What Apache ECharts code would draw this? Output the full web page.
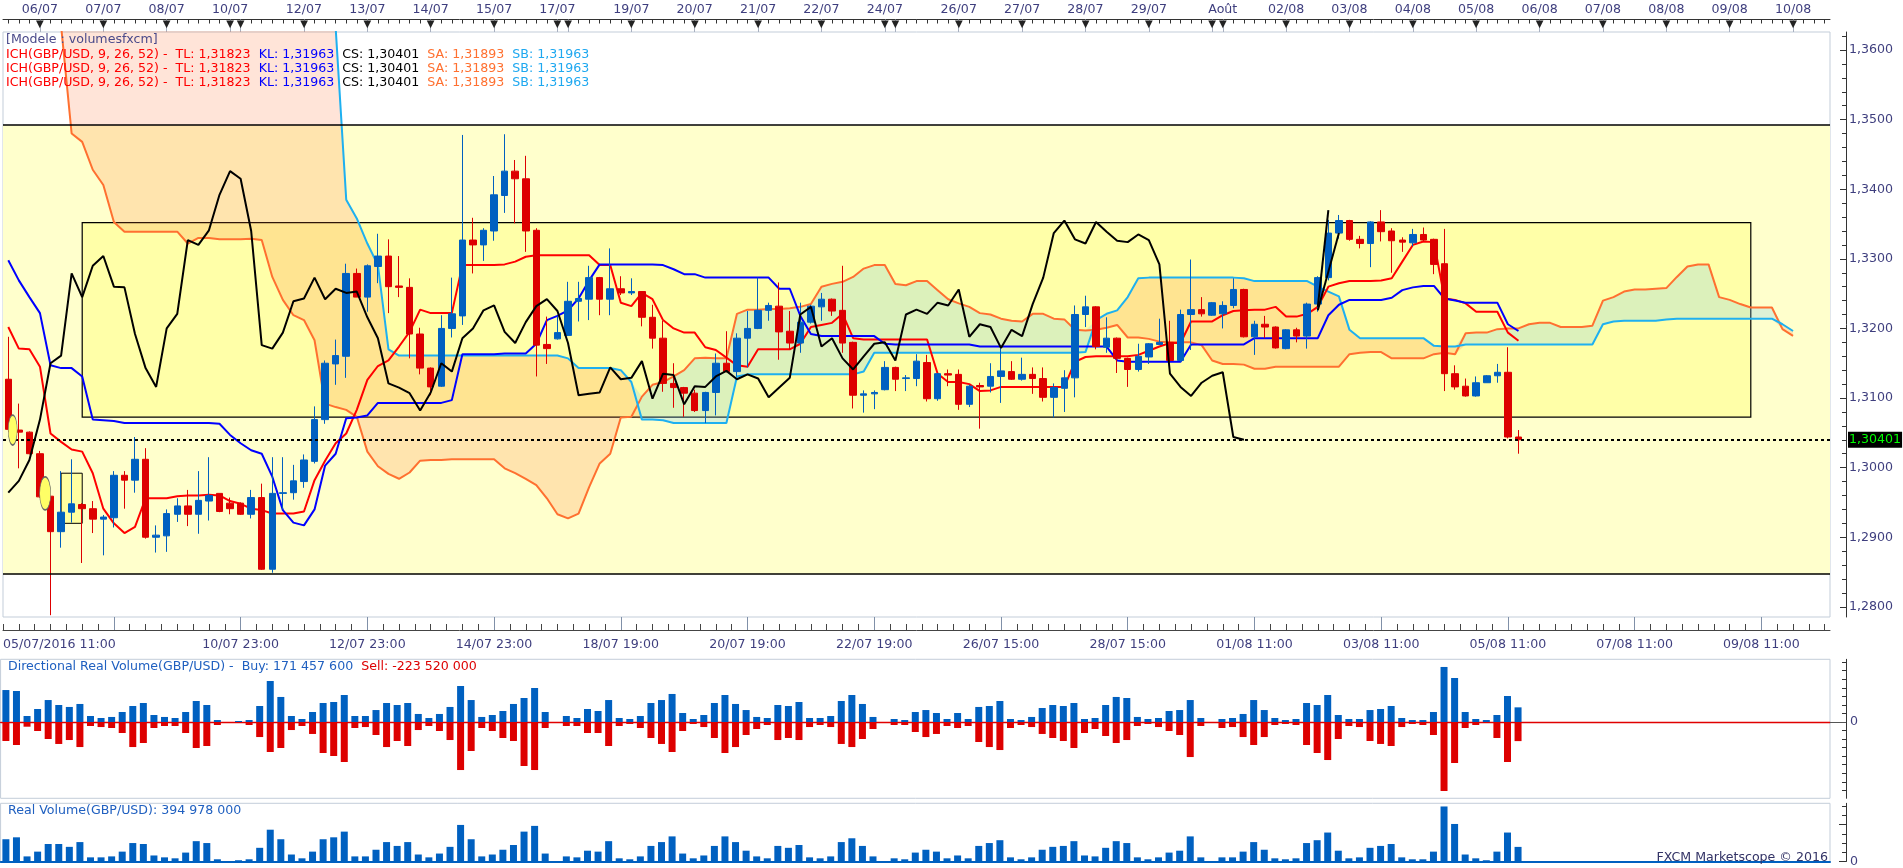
<!DOCTYPE html>
<html><head><meta charset="utf-8">
<script src="https://cdn.jsdelivr.net/npm/echarts@6/dist/echarts.min.js"></script>
<style>html,body{margin:0;padding:0;background:#fff;}#c{width:1903px;height:868px;}</style>
</head><body><div id="c"></div>
<script>
// ---------- DATA ----------
const NBARS = 173;
// [open, high, low, close] per 4h bar (GBP/USD)
const candleOHLC = [
[1.3127,1.3188,1.3051,1.3055],[1.3054,1.3092,1.2999,1.3051],[1.3051,1.3052,1.3019,1.3020],[1.3020,1.3024,1.2957,1.2958],[1.2959,1.2959,1.2788,1.2908],
[1.2908,1.2995,1.2885,1.2936],[1.2936,1.3012,1.2921,1.2948],[1.2947,1.2949,1.2863,1.2941],[1.2941,1.2952,1.2906,1.2926],[1.2926,1.2932,1.2874,1.2929],
[1.2928,1.2995,1.2914,1.2989],[1.2989,1.2995,1.2941,1.2982],[1.2982,1.3044,1.2964,1.3012],[1.3012,1.3028,1.2898,1.2900],[1.2900,1.2917,1.2878,1.2903],
[1.2902,1.2940,1.2879,1.2934],[1.2933,1.2956,1.2922,1.2945],[1.2945,1.2968,1.2916,1.2933],[1.2933,1.2995,1.2905,1.2953],[1.2952,1.3015,1.2924,1.2960],
[1.2963,1.2963,1.2936,1.2937],[1.2949,1.2957,1.2933,1.2941],[1.2949,1.2950,1.2932,1.2933],[1.2933,1.2968,1.2927,1.2957],[1.2957,1.2977,1.2853,1.2854],
[1.2854,1.3015,1.2849,1.2963],[1.2963,1.3015,1.2940,1.2964],[1.2964,1.3004,1.2954,1.2981],[1.2980,1.3019,1.2971,1.3011],[1.3009,1.3088,1.3006,1.3069],
[1.3069,1.3154,1.3063,1.3150],[1.3149,1.3184,1.3119,1.3161],[1.3160,1.3293,1.3129,1.3279],[1.3279,1.3286,1.3245,1.3245],[1.3245,1.3292,1.3224,1.3290],
[1.3289,1.3336,1.3265,1.3304],[1.3304,1.3328,1.3222,1.3260],[1.3261,1.3304,1.3245,1.3259],[1.3259,1.3272,1.3157,1.3192],[1.3192,1.3201,1.3134,1.3143],
[1.3143,1.3144,1.3104,1.3116],[1.3117,1.3219,1.3116,1.3200],[1.3200,1.3273,1.3187,1.3221],[1.3218,1.3478,1.3205,1.3327],[1.3327,1.3359,1.3279,1.3320],
[1.3320,1.3344,1.3297,1.3341],[1.3340,1.3419,1.3326,1.3392],[1.3391,1.3479,1.3366,1.3426],[1.3426,1.3442,1.3351,1.3415],[1.3415,1.3448,1.3310,1.3340],
[1.3341,1.3344,1.3131,1.3176],[1.3177,1.3217,1.3149,1.3171],[1.3185,1.3217,1.3184,1.3194],[1.3190,1.3267,1.3189,1.3239],[1.3239,1.3267,1.3210,1.3243],
[1.3242,1.3290,1.3212,1.3273],[1.3273,1.3274,1.3219,1.3242],[1.3242,1.3315,1.3219,1.3257],[1.3257,1.3275,1.3248,1.3251],[1.3251,1.3272,1.3248,1.3253],
[1.3253,1.3253,1.3203,1.3216],[1.3216,1.3234,1.3171,1.3186],[1.3186,1.3211,1.3109,1.3121],[1.3121,1.3150,1.3086,1.3115],[1.3115,1.3116,1.3073,1.3107],
[1.3107,1.3112,1.3080,1.3082],[1.3082,1.3109,1.3064,1.3108],[1.3108,1.3164,1.3075,1.3150],[1.3150,1.3196,1.3137,1.3138],[1.3138,1.3193,1.3131,1.3186],
[1.3186,1.3225,1.3144,1.3200],[1.3200,1.3273,1.3199,1.3226],[1.3226,1.3237,1.3211,1.3233],[1.3232,1.3266,1.3155,1.3195],[1.3196,1.3225,1.3170,1.3179],
[1.3179,1.3237,1.3165,1.3209],[1.3209,1.3234,1.3207,1.3232],[1.3231,1.3251,1.3211,1.3242],[1.3242,1.3243,1.3218,1.3225],[1.3226,1.3290,1.3165,1.3179],
[1.3180,1.3181,1.3085,1.3104],[1.3104,1.3111,1.3079,1.3106],[1.3106,1.3111,1.3084,1.3108],[1.3112,1.3153,1.3111,1.3144],[1.3144,1.3145,1.3110,1.3127],
[1.3128,1.3133,1.3110,1.3129],[1.3128,1.3163,1.3117,1.3153],[1.3151,1.3162,1.3095,1.3099],[1.3099,1.3136,1.3096,1.3135],[1.3135,1.3141,1.3117,1.3133],
[1.3134,1.3141,1.3083,1.3091],[1.3091,1.3119,1.3087,1.3117],[1.3118,1.3122,1.3056,1.3116],[1.3117,1.3150,1.3108,1.3131],[1.3131,1.3174,1.3093,1.3139],
[1.3138,1.3153,1.3126,1.3127],[1.3127,1.3158,1.3125,1.3134],[1.3134,1.3144,1.3106,1.3128],[1.3128,1.3144,1.3095,1.3101],[1.3101,1.3121,1.3072,1.3115],
[1.3114,1.3140,1.3080,1.3129],[1.3129,1.3233,1.3101,1.3220],[1.3220,1.3247,1.3202,1.3231],[1.3231,1.3232,1.3170,1.3174],[1.3173,1.3216,1.3165,1.3186],
[1.3186,1.3187,1.3136,1.3157],[1.3157,1.3158,1.3116,1.3141],[1.3141,1.3178,1.3138,1.3160],[1.3159,1.3179,1.3149,1.3178],[1.3177,1.3214,1.3176,1.3180],
[1.3180,1.3211,1.3152,1.3154],[1.3154,1.3227,1.3152,1.3220],[1.3220,1.3299,1.3169,1.3227],[1.3227,1.3245,1.3217,1.3221],[1.3219,1.3238,1.3218,1.3237],
[1.3221,1.3239,1.3200,1.3233],[1.3233,1.3272,1.3229,1.3256],[1.3256,1.3257,1.3187,1.3188],[1.3188,1.3211,1.3162,1.3206],[1.3206,1.3218,1.3186,1.3202],
[1.3202,1.3203,1.3171,1.3172],[1.3171,1.3199,1.3170,1.3198],[1.3198,1.3201,1.3180,1.3189],[1.3189,1.3237,1.3171,1.3235],[1.3235,1.3275,1.3224,1.3273],
[1.3273,1.3356,1.3269,1.3337],[1.3337,1.3363,1.3329,1.3355],[1.3355,1.3356,1.3326,1.3328],[1.3328,1.3333,1.3315,1.3322],[1.3322,1.3354,1.3288,1.3353],
[1.3353,1.3370,1.3325,1.3339],[1.3340,1.3344,1.3280,1.3326],[1.3327,1.3331,1.3310,1.3324],[1.3323,1.3343,1.3318,1.3335],[1.3335,1.3345,1.3325,1.3327],
[1.3328,1.3329,1.3278,1.3292],[1.3293,1.3343,1.3110,1.3135],[1.3135,1.3147,1.3112,1.3116],[1.3117,1.3128,1.3102,1.3103],[1.3103,1.3131,1.3102,1.3122],
[1.3122,1.3133,1.3122,1.3132],[1.3132,1.3149,1.3122,1.3137],[1.3137,1.3173,1.3042,1.3044],[1.3044,1.3054,1.3020,1.30401]
];
const tenkan = [
1.3202,1.3171,1.3170,1.3145,1.3049,1.3037,1.3026,1.3023,1.2992,1.2941,
1.2920,1.2906,1.2915,1.2956,1.2956,1.2956,1.2959,1.2960,1.2960,1.2961,
1.2960,1.2952,1.2948,1.2941,1.2939,1.2934,1.2934,1.2934,1.2937,1.2982,
1.3010,1.3035,1.3049,1.3083,1.3126,1.3146,1.3154,1.3174,1.3195,1.3227,
1.3222,1.3222,1.3222,1.3291,1.3291,1.3291,1.3291,1.3292,1.3296,1.3303,
1.3305,1.3305,1.3305,1.3305,1.3305,1.3305,1.3291,1.3291,1.3237,1.3232,
1.3251,1.3242,1.3212,1.3200,1.3194,1.3194,1.3173,1.3169,1.3158,1.3147,
1.3145,1.3170,1.3170,1.3170,1.3170,1.3178,1.3202,1.3205,1.3208,1.3221,
1.3186,1.3184,1.3184,1.3184,1.3184,1.3184,1.3184,1.3184,1.3135,1.3123,
1.3123,1.3120,1.3110,1.3111,1.3116,1.3116,1.3116,1.3116,1.3116,1.3116,
1.3116,1.3152,1.3159,1.3160,1.3160,1.3160,1.3160,1.3162,1.3168,1.3174,
1.3179,1.3179,1.3210,1.3210,1.3210,1.3219,1.3225,1.3226,1.3227,1.3227,
1.3231,1.3217,1.3217,1.3221,1.3231,1.3260,1.3265,1.3268,1.3268,1.3268,
1.3269,1.3272,1.3296,1.3320,1.3325,1.3324,1.3243,1.3241,1.3236,1.3224,
1.3224,1.3224,1.3194,1.31823
];
const kijun = [
1.3298,1.3269,1.3245,1.3222,1.3147,1.3143,1.3143,1.3131,1.3069,1.3068,
1.3067,1.3064,1.3064,1.3064,1.3064,1.3064,1.3064,1.3064,1.3064,1.3064,
1.3063,1.3047,1.3035,1.3025,1.3020,1.2987,1.2939,1.2921,1.2917,1.2940,
1.3003,1.3020,1.3071,1.3072,1.3075,1.3093,1.3093,1.3093,1.3093,1.3093,
1.3093,1.3093,1.3097,1.3163,1.3163,1.3163,1.3163,1.3164,1.3164,1.3164,
1.3178,1.3212,1.3218,1.3226,1.3243,1.3269,1.3292,1.3292,1.3292,1.3292,
1.3292,1.3292,1.3291,1.3285,1.3278,1.3278,1.3273,1.3273,1.3273,1.3273,
1.3273,1.3273,1.3273,1.3257,1.3257,1.3218,1.3192,1.3189,1.3189,1.3189,
1.3189,1.3189,1.3189,1.3178,1.3177,1.3177,1.3177,1.3177,1.3177,1.3177,
1.3177,1.3177,1.3174,1.3174,1.3174,1.3174,1.3174,1.3174,1.3174,1.3174,
1.3174,1.3174,1.3174,1.3174,1.3174,1.3154,1.3152,1.3152,1.3152,1.3152,
1.3152,1.3152,1.3177,1.3177,1.3177,1.3177,1.3177,1.3177,1.3186,1.3186,
1.3186,1.3186,1.3186,1.3186,1.3186,1.3219,1.3234,1.3241,1.3241,1.3241,
1.3241,1.3244,1.3255,1.3259,1.3261,1.3261,1.3243,1.3240,1.3237,1.3237,
1.3237,1.3237,1.3206,1.31963
];
const senkouA = [
1.3760,1.3740,1.3720,1.3700,1.3680,1.3635,1.3480,1.3468,1.3428,1.3406,
1.3353,1.3339,1.3339,1.3339,1.3339,1.3339,1.3339,1.3322,1.3330,1.3330,
1.3328,1.3328,1.3328,1.3329,1.3327,1.3274,1.3241,1.3219,1.3212,1.3183,
1.3092,1.3087,1.3083,1.3073,1.3023,1.3002,1.2991,1.2984,1.2993,1.3010,
1.3011,1.3011,1.3012,1.3012,1.3012,1.3012,1.3012,1.2999,1.2992,1.2984,
1.2975,1.2956,1.2933,1.2927,1.2934,1.2972,1.3006,1.3020,1.3072,1.3073,
1.3102,1.3119,1.3123,1.3131,1.3140,1.3157,1.3158,1.3157,1.3157,1.3221,
1.3227,1.3227,1.3228,1.3228,1.3229,1.3231,1.3235,1.3260,1.3264,1.3267,
1.3274,1.3286,1.3291,1.3291,1.3264,1.3262,1.3268,1.3268,1.3255,1.3242,
1.3236,1.3231,1.3222,1.3220,1.3214,1.3211,1.3210,1.3221,1.3221,1.3214,
1.3213,1.3198,1.3197,1.3198,1.3201,1.3205,1.3187,1.3187,1.3185,1.3181,
1.3180,1.3180,1.3180,1.3176,1.3154,1.3149,1.3149,1.3148,1.3142,1.3142,
1.3145,1.3145,1.3145,1.3145,1.3145,1.3145,1.3145,1.3163,1.3165,1.3166,
1.3166,1.3157,1.3157,1.3157,1.3157,1.3163,1.3165,1.3163,1.3193,1.3194,
1.3194,1.3199,1.3200,1.3200,1.3206,1.3208,1.3208,1.3202,1.3202,1.3202,
1.3204,1.3240,1.3245,1.3253,1.3256,1.3256,1.3257,1.3258,1.3274,1.3289,
1.3292,1.3292,1.3245,1.3241,1.3235,1.3230,1.3230,1.3230,1.3199,1.31893
];
const senkouB = [
1.3800,1.3800,1.3800,1.3800,1.3800,1.3800,1.3800,1.3800,1.3800,1.3800,
1.3800,1.3800,1.3800,1.3800,1.3800,1.3800,1.3800,1.3800,1.3800,1.3800,
1.3800,1.3800,1.3800,1.3800,1.3800,1.3800,1.3800,1.3800,1.3800,1.3800,
1.3800,1.3632,1.3385,1.3358,1.3322,1.3291,1.3170,1.3161,1.3161,1.3161,
1.3161,1.3161,1.3161,1.3161,1.3161,1.3161,1.3161,1.3161,1.3161,1.3161,
1.3161,1.3161,1.3161,1.3157,1.3143,1.3143,1.3143,1.3143,1.3140,1.3123,
1.3069,1.3069,1.3068,1.3064,1.3064,1.3064,1.3064,1.3064,1.3064,1.3131,
1.3134,1.3134,1.3134,1.3134,1.3134,1.3134,1.3134,1.3134,1.3134,1.3134,
1.3134,1.3138,1.3165,1.3165,1.3165,1.3165,1.3165,1.3165,1.3165,1.3165,
1.3165,1.3165,1.3165,1.3165,1.3165,1.3165,1.3165,1.3165,1.3165,1.3165,
1.3165,1.3165,1.3166,1.3212,1.3221,1.3226,1.3245,1.3272,1.3273,1.3273,
1.3273,1.3273,1.3273,1.3273,1.3273,1.3273,1.3273,1.3272,1.3268,1.3268,
1.3268,1.3268,1.3268,1.3268,1.3260,1.3253,1.3246,1.3198,1.3186,1.3186,
1.3186,1.3186,1.3186,1.3186,1.3186,1.3175,1.3174,1.3174,1.3177,1.3177,
1.3177,1.3177,1.3177,1.3177,1.3177,1.3177,1.3177,1.3177,1.3177,1.3177,
1.3177,1.3206,1.3210,1.3211,1.3211,1.3211,1.3211,1.3213,1.3214,1.3214,
1.3214,1.3214,1.3214,1.3214,1.3214,1.3214,1.3214,1.3214,1.3206,1.31963
];
// Directional real volume (millions): buy > 0, sell < 0
const buyVol = [
374,363,70,152,257,199,176,211,70,47,
59,117,187,222,82,59,47,117,246,199,
23,0,12,23,187,480,293,70,35,117,
222,234,316,70,70,140,222,199,222,94,
47,94,176,421,257,59,82,129,211,281,
398,117,0,70,47,152,129,257,47,35,
70,222,257,328,105,35,82,222,316,211,
140,59,47,199,187,234,47,47,70,246,
316,211,59,0,35,23,117,140,105,35,
105,35,176,187,246,35,23,59,164,199,
187,222,35,47,199,293,281,59,35,47,
129,140,257,47,0,35,47,94,257,140,
47,23,35,222,199,316,82,35,35,140,
152,187,47,23,23,117,644,515,117,35,
23,82,304,171.4576
];
const sellVol = [
-222,-269,-55,-105,-199,-257,-211,-293,-47,-59,
-70,-129,-293,-246,-70,-47,-47,-129,-304,-281,
-35,0,0,-35,-176,-351,-304,-94,-47,-140,
-363,-398,-468,-70,-59,-152,-293,-222,-281,-94,
-47,-105,-211,-562,-339,-70,-105,-187,-222,-515,
-562,-70,0,-47,-47,-129,-129,-281,-47,-23,
-70,-187,-257,-351,-105,-23,-59,-187,-363,-293,
-152,-82,-35,-211,-187,-211,-59,-35,-59,-257,
-293,-199,-82,0,-35,-35,-117,-176,-140,-47,
-70,-47,-234,-293,-328,-70,-35,-59,-140,-187,
-222,-304,-129,-82,-164,-246,-211,-47,-23,-59,
-105,-152,-410,-47,0,-70,-59,-176,-269,-176,
-35,-23,-35,-269,-363,-445,-199,-47,-59,-222,
-257,-281,-59,-23,-35,-152,-807,-480,-70,-35,
-8,-187,-468,-223.52
];
// Real volume (millions)
const realVol = [
602,654,138,267,473,473,396,525,112,112,
138,267,499,473,163,112,86,241,550,499,
60,0,34,60,370,860,602,189,86,267,
602,654,808,138,138,318,525,421,525,189,
112,215,396,989,602,138,189,318,447,808,
963,215,0,138,112,292,267,550,86,60,
138,421,525,679,215,86,163,421,679,525,
292,138,86,421,370,447,112,86,138,525,
628,421,138,0,86,60,241,318,267,86,
163,86,421,499,576,112,60,112,318,396,
421,550,163,138,370,550,499,112,60,112,
241,292,679,112,0,112,112,267,525,318,
86,60,86,499,576,783,292,86,112,370,
421,473,112,60,60,267,1488,1015,189,86,
34,267,783,394.978
];
// Top axis: day markers (bar index) and their labels ('' = unlabeled marker)
const dayMarkIdx = [3,9,15,21,22,28,34,40,46,52,53,59,65,71,77,83,84,90,96,102,108,114,115,121,127,133,139,145,151,157,163,169];
const dayMarkLabels = ['06/07','07/07','08/07','10/07','','12/07','13/07','14/07','15/07','17/07','','19/07','20/07','21/07','22/07','24/07','','26/07','27/07','28/07','29/07','','Août','02/08','03/08','04/08','05/08','06/08','07/08','08/08','09/08','10/08'];
// Bottom axis labels
const timeLabelIdx = [-0.5,22,34,46,58,70,82,94,106,118,130,142,154,166];
const timeLabels = ['05/07/2016 11:00','10/07 23:00','12/07 23:00','14/07 23:00','18/07 19:00','20/07 19:00','22/07 19:00','26/07 15:00','28/07 15:00','01/08 11:00','03/08 11:00','05/08 11:00','07/08 11:00','09/08 11:00'];
const timeMajorTicks = [10,22,34,46,58,70,82,94,106,118,130,142,154,166];
const priceTicks = [1.28,1.29,1.30,1.31,1.32,1.33,1.34,1.35,1.36];
const priceMinorTicks = [1.278,1.282,1.284,1.286,1.288,1.292,1.294,1.296,1.298,1.302,1.304,1.306,1.308,1.312,1.314,1.316,1.318,1.322,1.324,1.326,1.328,1.332,1.334,1.336,1.338,1.342,1.344,1.346,1.348,1.352,1.354,1.356,1.358,1.362];
const lastClose = 1.30401;
// Drawn objects (price levels)
const bandLevels = [1.2847, 1.3492];
const boxIdx = [7, 165], boxLevels = [1.30727, 1.3352];
const smallBoxIdx = [5, 7], smallBoxLevels = [1.2920, 1.2992];
const trendLines = [[[124,1.3231],[125,1.3370]],[[124,1.3226],[126,1.3337]]];

// ---------- BUILD ----------
const FONT = 'DejaVu Sans';
const FS = 12.6;
const TXT = '#3E3E7E';
const cats = Array.from({length: NBARS}, (_, i) => i);
const candleData = candleOHLC.map(r => [r[0], r[3], r[2], r[1]]);
const closes = candleOHLC.map(r => r[3]);
const chikou = closes.slice(26);
const cloudLow = senkouA.map((a, i) => Math.min(a, senkouB[i]));
const cloudBear = senkouA.map((a, i) => senkouB[i] > a ? senkouB[i] - a : 0);
const cloudBull = senkouA.map((a, i) => a > senkouB[i] ? a - senkouB[i] : 0);
const dayMap = {}; dayMarkIdx.forEach((d, i) => dayMap[d] = dayMarkLabels[i]);
const timeMap = {}; timeLabelIdx.forEach((d, i) => timeMap[d] = timeLabels[i]);
const minorTimeTicks = []; for (let v = -0.5; v <= NBARS - 0.5; v += 1.5) minorTimeTicks.push(v);
const fmtPrice = v => v.toFixed(4).replace('.', ',');

const G0 = {left: 0.6, top: 32, width: 1829.4, height: 585};
const G1 = {left: 0.6, top: 659.3, width: 1829.4, height: 139};
const G2 = {left: 0.6, top: 803.3, width: 1829.4, height: 61};
const gridStyle = {show: true, borderColor: '#C3CDD9', borderWidth: 1, backgroundColor: 'transparent', containLabel: false};
const XMIN = -0.5, XMAX = NBARS - 0.5;
const YMIN = 1.27854, YMAX = 1.36259;
const noSplit = {show: false};

const ichLine = '{r|ICH(GBP/USD, 9, 26, 52) -  TL: 1,31823  }{b|KL: 1,31963}{k|  CS: 1,30401}{o|  SA: 1,31893}{c|  SB: 1,31963}';
const rs = c => ({color: c, fontSize: FS, fontFamily: FONT, fontWeight: 'normal', lineHeight: 14.2});

const option = {
  animation: false,
  textStyle: {fontFamily: FONT},
  title: [
    {left: 6, top: 33, padding: 0,
     text: '{m|[Modele : volumesfxcm]}\n' + ichLine + '\n' + ichLine + '\n' + ichLine,
     textStyle: {fontWeight: 'normal', fontSize: FS, rich: {m: rs('#4A4A8A'), r: rs('#FF0000'), b: rs('#0000FF'), k: rs('#000000'), o: rs('#FF7030'), c: rs('#1EA8F0')}}},
    {left: 8, top: 660, padding: 0,
     text: '{b|Directional Real Volume(GBP/USD) -  Buy: 171 457 600}{r|  Sell: -223 520 000}',
     textStyle: {fontWeight: 'normal', fontSize: FS, rich: {b: rs('#2060C0'), r: rs('#DD0000')}}},
    {left: 8, top: 804, padding: 0,
     text: 'Real Volume(GBP/USD): 394 978 000',
     textStyle: {color: '#2060C0', fontSize: FS, fontFamily: FONT, fontWeight: 'normal'}},
    {right: 75, top: 851, padding: 0,
     text: 'FXCM Marketscope © 2016',
     textStyle: {color: '#333366', fontSize: FS, fontFamily: FONT, fontWeight: 'normal'}}
  ],
  grid: [Object.assign({}, gridStyle, G0), Object.assign({}, gridStyle, G1), Object.assign({}, gridStyle, G2)],
  xAxis: [
    {type: 'category', gridIndex: 0, data: cats, show: false, boundaryGap: true},
    {type: 'value', gridIndex: 0, position: 'top', offset: 12.5, min: XMIN, max: XMAX,
     axisLine: {show: true, onZero: false, lineStyle: {color: '#333', width: 1}},
     axisTick: {show: true, inside: true, length: 4, customValues: cats, lineStyle: {color: '#333'}},
     axisLabel: {show: true, customValues: dayMarkIdx, margin: 3, color: TXT, fontSize: FS, fontFamily: FONT, formatter: v => dayMap[v] || ''},
     splitLine: noSplit},
    {type: 'value', gridIndex: 0, position: 'top', offset: 12.5, min: XMIN, max: XMAX,
     axisLine: {show: false, onZero: false},
     axisTick: {show: true, inside: true, length: 12.5, customValues: dayMarkIdx, lineStyle: {color: '#A8B0C0'}},
     axisLabel: {show: true, inside: true, customValues: dayMarkIdx, margin: 0, color: '#222', fontSize: 10, fontFamily: FONT, formatter: () => '▼'},
     splitLine: noSplit},
    {type: 'value', gridIndex: 0, position: 'bottom', offset: 13, min: XMIN, max: XMAX,
     axisLine: {show: true, onZero: false, lineStyle: {color: '#444', width: 1}},
     axisTick: {show: true, inside: true, length: 6, customValues: minorTimeTicks, lineStyle: {color: '#444'}},
     axisLabel: {show: false},
     splitLine: noSplit},
    {type: 'value', gridIndex: 0, position: 'bottom', offset: 13, min: XMIN, max: XMAX,
     axisLine: {show: false, onZero: false},
     axisTick: {show: true, inside: true, length: 13, customValues: timeMajorTicks, lineStyle: {color: '#8090A8'}},
     axisLabel: {show: true, customValues: timeLabelIdx, margin: 8, color: TXT, fontSize: FS, fontFamily: FONT, alignMinLabel: 'left', formatter: v => timeMap[v] || ''},
     splitLine: noSplit},
    {type: 'category', gridIndex: 1, data: cats, boundaryGap: true,
     axisLine: {show: true, onZero: true, lineStyle: {color: '#E00000', width: 1.3}},
     axisTick: {show: false}, axisLabel: {show: false}},
    {type: 'category', gridIndex: 2, data: cats, boundaryGap: true,
     axisLine: {show: true, lineStyle: {color: '#0060C0', width: 2}},
     axisTick: {show: false}, axisLabel: {show: false}}
  ],
  yAxis: [
    {type: 'value', gridIndex: 0, position: 'right', offset: 16, min: YMIN, max: YMAX,
     axisLine: {show: true, onZero: false, lineStyle: {color: '#333'}},
     axisTick: {show: true, inside: true, length: 6, customValues: priceTicks, lineStyle: {color: '#333'}},
     axisLabel: {show: true, customValues: priceTicks, margin: 3, color: TXT, fontSize: FS, fontFamily: FONT, formatter: fmtPrice},
     splitLine: noSplit},
    {type: 'value', gridIndex: 0, position: 'right', offset: 16, min: YMIN, max: YMAX,
     axisLine: {show: false, onZero: false},
     axisTick: {show: true, inside: true, length: 4, customValues: priceMinorTicks, lineStyle: {color: '#333'}},
     axisLabel: {show: false}, splitLine: noSplit},
    {type: 'value', gridIndex: 1, position: 'right', offset: 16, min: -892.7, max: 733.6,
     axisLine: {show: true, onZero: false, lineStyle: {color: '#333'}},
     axisTick: {show: true, inside: true, length: 16, customValues: [0], lineStyle: {color: '#555'}},
     axisLabel: {show: true, customValues: [0], margin: 4, color: TXT, fontSize: FS, fontFamily: FONT, formatter: () => '0'},
     splitLine: noSplit},
    {type: 'value', gridIndex: 1, position: 'right', offset: 16, min: -892.7, max: 733.6,
     axisLine: {show: false, onZero: false},
     axisTick: {show: true, inside: true, length: 4, customValues: [-800,-700,-600,-500,-400,-300,-200,-100,100,200,300,400,500,600,700], lineStyle: {color: '#333'}},
     axisLabel: {show: false}, splitLine: noSplit},
    {type: 'value', gridIndex: 2, position: 'right', offset: 16, min: 0, max: 1573.8,
     axisLine: {show: true, onZero: false, lineStyle: {color: '#333'}},
     axisTick: {show: true, inside: true, length: 7, customValues: [0, 1000], lineStyle: {color: '#333'}},
     axisLabel: {show: true, customValues: [0], margin: 4, color: TXT, fontSize: FS, fontFamily: FONT, formatter: () => '0'},
     splitLine: noSplit},
    {type: 'value', gridIndex: 2, position: 'right', offset: 16, min: 0, max: 1573.8,
     axisLine: {show: false, onZero: false},
     axisTick: {show: true, inside: true, length: 4, customValues: [250, 500, 750, 1250, 1500], lineStyle: {color: '#333'}},
     axisLabel: {show: false}, splitLine: noSplit}
  ],
  series: [
    {name: 'bg', type: 'line', xAxisIndex: 0, yAxisIndex: 0, data: closes, z: 1, silent: true,
     showSymbol: false, symbol: 'none', lineStyle: {opacity: 0},
     markArea: {silent: true, precision: 5, label: {show: false}, data: [
       [{yAxis: bandLevels[0], itemStyle: {color: '#FFFFCC'}}, {yAxis: bandLevels[1]}],
       [{xAxis: boxIdx[0], yAxis: boxLevels[0], itemStyle: {color: '#FFFFA8', borderColor: '#000', borderWidth: 1.2}}, {xAxis: boxIdx[1], yAxis: boxLevels[1]}],
       [{xAxis: smallBoxIdx[0], yAxis: smallBoxLevels[0], itemStyle: {color: '#FFFFA0', borderColor: '#000', borderWidth: 1}}, {xAxis: smallBoxIdx[1], yAxis: smallBoxLevels[1]}]
     ]},
     markLine: {silent: true, precision: 5, symbol: 'none', label: {show: false}, lineStyle: {color: '#000', width: 1.5, type: 'solid'},
       data: [{yAxis: bandLevels[0]}, {yAxis: bandLevels[1]}]},
     markPoint: {silent: true, label: {show: false}, data: [
       {coord: [0, 1.3054], symbol: 'circle', symbolSize: [9, 30], symbolOffset: [4.4, 0], itemStyle: {color: '#FFFF66', borderColor: '#666', borderWidth: 1}},
       {coord: [3, 1.2963], symbol: 'circle', symbolSize: [11, 33], symbolOffset: [5.2, 0], itemStyle: {color: '#FFFF66', borderColor: '#666', borderWidth: 1}}
     ]}},
    {name: 'cloudBase', type: 'line', stack: 'cloud', data: cloudLow, z: 1, silent: true, showSymbol: false, symbol: 'none', lineStyle: {opacity: 0}},
    {name: 'cloudBear', type: 'line', stack: 'cloud', data: cloudBear, z: 1, silent: true, showSymbol: false, symbol: 'none', lineStyle: {opacity: 0},
     areaStyle: {color: 'rgba(255,110,50,0.19)', opacity: 1}},
    {name: 'cloudBull', type: 'line', stack: 'cloud', data: cloudBull, z: 1, silent: true, showSymbol: false, symbol: 'none', lineStyle: {opacity: 0},
     areaStyle: {color: 'rgba(120,200,245,0.26)', opacity: 1}},
    {name: 'SA', type: 'line', data: senkouA, z: 2, showSymbol: false, symbol: 'none', lineStyle: {color: '#FF7030', width: 2}},
    {name: 'SB', type: 'line', data: senkouB, z: 2, showSymbol: false, symbol: 'none', lineStyle: {color: '#1EB0F0', width: 2}},
    {name: 'TL', type: 'line', data: tenkan, z: 2, showSymbol: false, symbol: 'none', lineStyle: {color: '#FF0000', width: 2}},
    {name: 'KL', type: 'line', data: kijun, z: 2, showSymbol: false, symbol: 'none', lineStyle: {color: '#0000FF', width: 2}},
    {name: 'GBP/USD', type: 'candlestick', data: candleData, z: 3, barWidth: 7,
     itemStyle: {color: '#0060C0', color0: '#DD0000', borderColor: '#0060C0', borderColor0: '#DD0000', borderWidth: 1}},
    {name: 'CS', type: 'line', data: chikou, z: 4, showSymbol: false, symbol: 'none', lineStyle: {color: '#000000', width: 2},
     markLine: {silent: true, precision: 5, symbol: 'none', data: [
       {yAxis: lastClose, lineStyle: {color: '#000', width: 2, type: [3, 3]},
        label: {show: true, position: 'end', distance: 18, formatter: lastClose.toFixed(5).replace('.', ','),
          color: '#00FF00', backgroundColor: '#000', padding: [2, 1, 1, 1], fontSize: FS, fontFamily: FONT}},
       [{coord: trendLines[0][0], lineStyle: {color: '#000', width: 2, type: 'solid'}, label: {show: false}}, {coord: trendLines[0][1]}],
       [{coord: trendLines[1][0], lineStyle: {color: '#000', width: 2, type: 'solid'}, label: {show: false}}, {coord: trendLines[1][1]}]
     ]}},
    {name: 'Buy', type: 'bar', xAxisIndex: 5, yAxisIndex: 2, data: buyVol, barWidth: 7, itemStyle: {color: '#0060C0'}},
    {name: 'Sell', type: 'bar', xAxisIndex: 5, yAxisIndex: 2, data: sellVol, barWidth: 7, barGap: '-100%', itemStyle: {color: '#DD0000'}},
    {name: 'Real Volume', type: 'bar', xAxisIndex: 6, yAxisIndex: 4, data: realVol, barWidth: 7, itemStyle: {color: '#0060C0'}}
  ]
};
const chart = echarts.init(document.getElementById('c'), null, {renderer: 'canvas'});
chart.setOption(option);
</script>
</body></html>
